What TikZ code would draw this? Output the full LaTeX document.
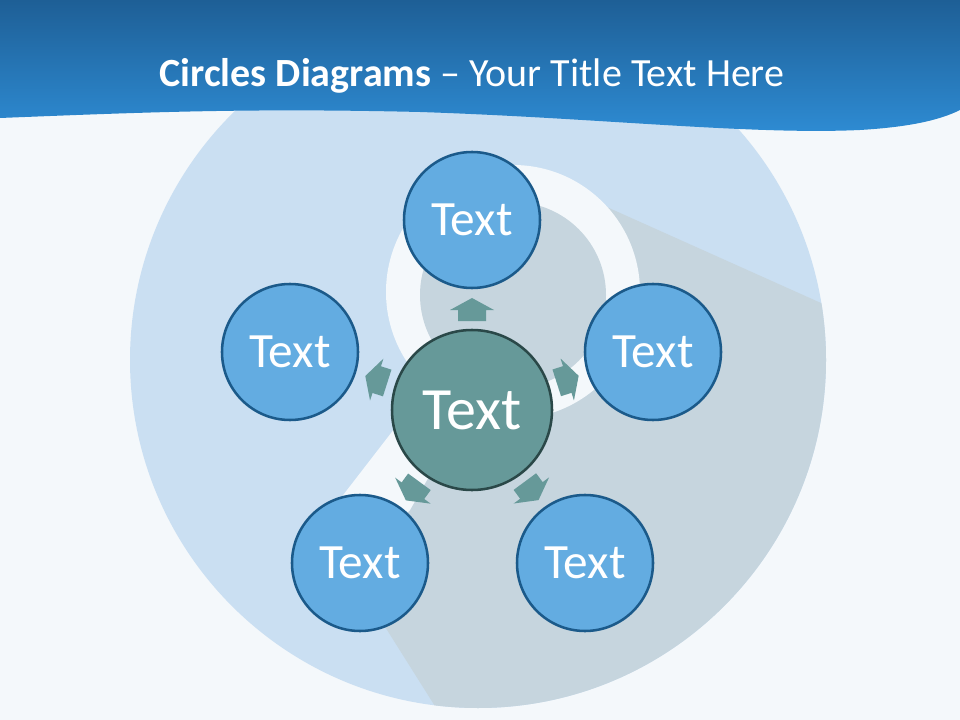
\documentclass[tikz,border=0pt]{standalone}
\usepackage{fontspec}
\setmainfont{Carlito}
\usetikzlibrary{calc}

\definecolor{pagebg}{RGB}{244,248,251}
\definecolor{discblue}{RGB}{202,223,242}
\definecolor{shadowgrey}{RGB}{198,213,222}
\definecolor{hdrtop}{RGB}{30,95,150}
\definecolor{hdrbot}{RGB}{46,140,212}
\definecolor{bubblefill}{RGB}{99,172,225}
\definecolor{bubbleline}{RGB}{27,90,138}
\definecolor{hubfill}{RGB}{102,153,153}
\definecolor{hubline}{RGB}{42,72,72}

\tikzset{
  bubble/.style={circle, fill=bubblefill, draw=bubbleline, line width=1.9pt,
    minimum size=102pt, inner sep=0pt, text=white, font=\fontsize{37}{37}\selectfont},
  hub/.style={circle, fill=hubfill, draw=hubline, line width=1.9pt,
    minimum size=120pt, inner sep=0pt, text=white, font=\fontsize{45}{45}\selectfont},
  pointer/.style={fill=hubfill},
}

\begin{document}
\begin{tikzpicture}[x=0.75pt, y=-0.75pt]
\useasboundingbox (0,0) rectangle (960,720);
\fill[pagebg] (0,0) rectangle (960,720);

% background disc with its shadows
\fill[discblue] (478,360) circle[radius=348];
\begin{scope}
\clip (478,360) circle[radius=348];
\fill[shadowgrey] (513,293) -- (580,195) -- (850,316) -- (850,730) -- (450,730)
  -- (343,560) -- (410,510) -- (461,420) -- cycle;
\fill[pagebg] (432,380) -- (320,525) -- (360,560) -- (410,510) -- (461,420) -- cycle;
\end{scope}
\fill[pagebg] (513,292) circle[radius=127];
\fill[shadowgrey] (513,295) circle[radius=93];

% header
\shade[top color=hdrtop, bottom color=hdrbot] (0,0) -- (960,0) -- (960,110)
  .. controls (940,120) and (910,127) .. (860,130)
  .. controls (750,135) and (600,118) .. (420,112)
  .. controls (250,108) and (150,112) .. (0,118) -- cycle;
\node[font=\fontsize{30}{30}\selectfont, text=white, anchor=base] (title) at (472,87)
  {\textbf{Circles Diagrams} – Your Title Text Here};

\node[hub](hub) at (472,410) {Text};
\node[bubble](top) at (472,220) {Text};
\node[bubble](left) at (290,352) {Text};
\node[bubble](right) at (653,352) {Text};
\node[bubble](botleft) at (360,563) {Text};
\node[bubble](botright) at (585,563) {Text};

\foreach \t in {top,left,right,botleft,botright}
  \fill[pointer] let \p1=($(\t)-(hub)$), \n1={atan2(\y1,\x1)} in
    {[shift={(hub)}, rotate=\n1] (89,-14) -- (100,-14) -- (100,-22) -- (112,0)
    -- (100,22) -- (100,14) -- (89,14) -- cycle};

\end{tikzpicture}
\end{document}
